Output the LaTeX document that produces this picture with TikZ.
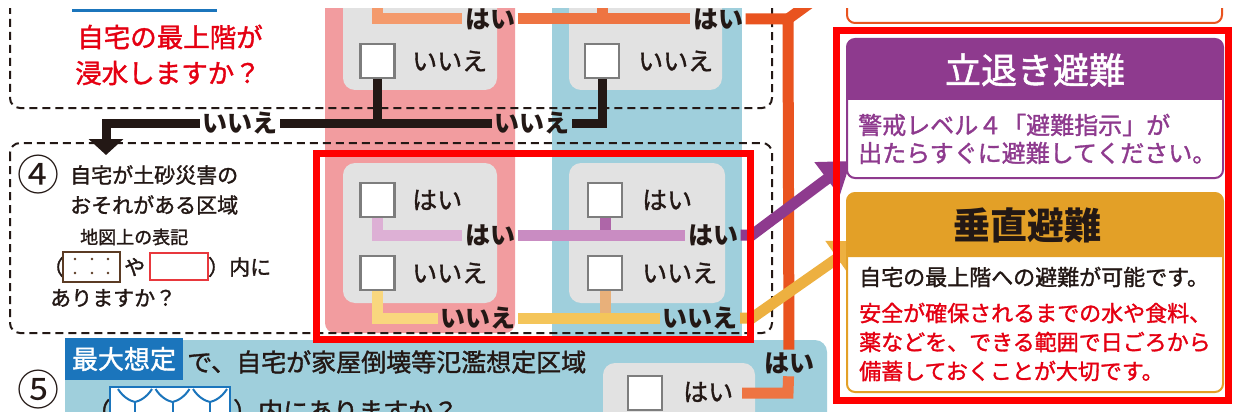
\documentclass[tikz,border=0pt]{standalone}
\usepackage{fontspec}
\newfontfamily\jp{Noto Sans CJK JP}
\newfontfamily\jpm[FakeBold=1.4]{Noto Sans CJK JP}
\usetikzlibrary{arrows.meta}
\newcommand\jfs[1]{\fontsize{#1}{#1}\selectfont}
\definecolor{ink}{HTML}{231815}
\definecolor{pinkcol}{HTML}{F29C9F}
\definecolor{bluecol}{HTML}{9FCFDC}
\definecolor{graybox}{HTML}{E2E2E2}
\definecolor{chkgray}{HTML}{7D7D7D}
\definecolor{redtxt}{HTML}{E50012}
\definecolor{blue5}{HTML}{1B75BC}
\definecolor{or1}{HTML}{F49A6C}
\definecolor{or2}{HTML}{EE7442}
\definecolor{or3}{HTML}{E9531F}
\definecolor{pu0}{HTML}{DDB0D5}
\definecolor{pu1}{HTML}{C98CC2}
\definecolor{pu2}{HTML}{AE66A8}
\definecolor{pu3}{HTML}{8E3A8E}
\definecolor{ye0}{HTML}{F9D77E}
\definecolor{ye1}{HTML}{F4C55A}
\definecolor{ye2}{HTML}{EDB040}
\definecolor{ye3}{HTML}{E3A027}
\definecolor{yestub}{HTML}{E8B07A}
\definecolor{brownbox}{HTML}{5B3B24}
\definecolor{redbox}{HTML}{E8383D}
\begin{document}
\begin{tikzpicture}[x=1pt,y=-1pt,
  chk/.style={draw=chkgray,fill=white,line width=2.5pt,minimum size=34pt,inner sep=0pt},
  opt/.style={font=\jpm\jfs{25},text=ink,inner sep=0pt,anchor=west},
  lbl/.style={font=\jp\bfseries\jfs{25},text=ink,inner sep=2.5pt},
  blk/.style={draw=ink,line width=9pt},
  ln/.style={line width=11pt},
  dashbox/.style={draw=ink,line width=2pt,dash pattern=on 8pt off 5pt,rounded corners=10pt},
  redframe/.style={draw=red,line width=7pt},
  body/.style={font=\jpm\jfs{21},text=ink,inner sep=0pt,anchor=west}
]
\useasboundingbox (0,0) rectangle (1235,412);
\fill[white] (0,0) rectangle (1235,412);
\begin{scope}
\clip (0,9) rectangle (1235,412);
% columns and panels
\fill[pinkcol, rounded corners=10pt] (325,-20) rectangle (515,333);
\fill[bluecol] (552,-20) rectangle (742,345);
\fill[bluecol, rounded corners=12pt] (65,340) rectangle (827,440);
\fill[graybox, rounded corners=12pt] (343,-20) rectangle (497,90);
\fill[graybox, rounded corners=12pt] (569,-20) rectangle (722,90);
\fill[graybox, rounded corners=12pt] (343,163) rectangle (497,303);
\fill[graybox, rounded corners=12pt] (569,163) rectangle (725,303);
\fill[graybox, rounded corners=12pt] (603,363) rectangle (755,440);
% top pieces
\draw[blue5, line width=3pt] (72,11) -- (217,11);
\draw[or3, line width=2pt, rounded corners=8pt] (847,-30) rectangle (1222,23);
% dashed question boxes
\draw[dashbox] (10,-30) rectangle (772,108);
\draw[dashbox] (10,143) rectangle (772,333);

% question 3
\node[font=\jpm\jfs{26.5}, text=redtxt, inner sep=0pt] (q3a) at (170,37) {自宅の最上階が};
\node[font=\jpm\jfs{26.5}, text=redtxt, inner sep=0pt] (q3b) at (168,73) {浸水しますか？};
\node[chk] (c3p) at (377.5,61) {};
\node[chk] (c3b) at (602,61) {};
\node[opt] (o3p) at (412,61) {いいえ};
\node[opt] (o3b) at (638,61) {いいえ};

% orange "yes" path
\coordinate (ostubP) at (377.5,0);
\coordinate (ostubB) at (602,0);
\coordinate (ocorner) at (788,19);
\coordinate (ocut) at (810,3);
\coordinate (obot) at (788,393);
\coordinate (o5) at (742,393);
\node[lbl] (lo1) at (490,19) {はい};
\node[lbl] (lo2) at (718,19) {はい};
\node[lbl] (lo3) at (789,363) {はい};
\draw[or1, ln] (ostubP) |- (lo1);
\draw[or2, ln] (lo1) -- (lo2);
\draw[or2, ln] (ostubB) -- (ostubB |- lo1);
\draw[or3, ln] (lo2) -- (ocorner) -- (lo3);
\draw[or3, ln] (ocorner) -- (ocut);
\draw[or2, ln] (o5) -- (obot) -- (lo3);

% black "no" path
\node[lbl] (lA) at (240,123) {いいえ};
\node[lbl] (lB) at (532,123) {いいえ};
\coordinate (q4in) at (106,155);
\draw[blk] (c3p.south) -- (c3p.south |- lA);
\draw[blk] (c3b.south) |- (lB);
\draw[blk] (lB) -- (lA);
\draw[blk, -{Triangle[length=16pt,width=34pt]}] (lA) -| (q4in);

% question 4
\node[font=\jp\jfs{42}, text=ink, inner sep=0pt] (n4) at (38,175) {④};
\node[body] (q4a) at (70,175) {自宅が土砂災害の};
\node[body] (q4b) at (70,205) {おそれがある区域};
\node[body, font=\jpm\jfs{18}] (q4c) at (80,237) {地図上の表記};
\node[body, anchor=east] (q4p1) at (64,267) {（};
\draw[brownbox, line width=2.5pt, fill=white] (63,252) rectangle (120,282);
\foreach \dx in {75,92,108}{\foreach \dy in {259,273}{\fill[brownbox] (\dx,\dy) circle (1.4pt);}}
\node[body] (q4ya) at (124,267) {や};
\draw[redbox, line width=2pt, fill=white] (150,253) rectangle (208,280);
\node[body] (q4p2) at (208,267) {）内に};
\node[body] (q4d) at (50,298) {ありますか？};

\node[chk] (c4py) at (377.5,200) {};
\node[chk] (c4pn) at (377.5,273) {};
\node[chk] (c4by) at (605,200) {};
\node[chk] (c4bn) at (605,273) {};
\node[opt] (o4py) at (412,200) {はい};
\node[opt] (o4pn) at (412,273) {いいえ};
\node[opt] (o4by) at (642,200) {はい};
\node[opt] (o4bn) at (642,273) {いいえ};

% purple path
\node[lbl] (lp1) at (490,235) {はい};
\node[lbl] (lp2) at (713,235) {はい};
\coordinate (pbend) at (752,235);
\coordinate (ptip) at (851,161);
\draw[pu0, ln] (c4py.south) |- (lp1);
\draw[pu2, ln] (c4by.south) -- (c4by.south |- lp1);
\draw[pu1, ln] (lp1) -- (lp2);
\draw[pu3, ln, line join=miter, -{Triangle[length=30pt,width=40pt]}] (lp2) -- (pbend) -- (ptip);

% yellow path
\node[lbl] (ly1) at (478,318) {いいえ};
\node[lbl] (ly2) at (700,318) {いいえ};
\coordinate (ybend) at (752,318);
\coordinate (ytip) at (862,241);
\draw[ye0, ln] (c4pn.south) |- (ly1);
\draw[yestub, ln] (c4bn.south) -- (c4bn.south |- ly1);
\draw[ye1, ln] (ly1) -- (ly2);
\draw[ye2, ln, line join=miter, -{Triangle[length=30pt,width=40pt]}] (ly2) -- (ybend) -- (ytip);

% question 5
\node[font=\jp\jfs{42}, text=ink, inner sep=0pt] (n5) at (38,390) {⑤};
\node[fill=blue5, text=white, font=\jpm\jfs{26}, minimum width=118pt, minimum height=42pt, inner sep=0pt] (saidai) at (124,359) {最大想定};
\node[body, font=\jpm\jfs{25}] (q5a) at (187,362) {で、自宅が家屋倒壊等氾濫想定区域};
\node[body, font=\jpm\jfs{25}, anchor=east] (q5p1) at (111,411) {（};
\draw[blue5, line width=2.5pt, fill=white] (110,387) rectangle (230,440);
\foreach \yx in {135,172.5,210}{
  \draw[blue5, line width=2pt] (\yx-17,389) .. controls (\yx-12,397) and (\yx-5,401) .. (\yx,402) .. controls (\yx+5,401) and (\yx+12,397) .. (\yx+17,389);
  \draw[blue5, line width=2pt] (\yx,402) -- (\yx,430);
}
\node[body, font=\jpm\jfs{25}] (q5b) at (233,411) {）内にありますか？};
\node[chk] (c5y) at (645,393) {};
\node[opt] (o5y) at (683,392) {はい};

% right: evacuation boxes
\draw[pu3, line width=2pt, fill=white, rounded corners=8pt] (847,39) rectangle (1223,178);
\fill[pu3] (847,100) [rounded corners=8pt] -- (847,39) -- (1223,39) [sharp corners] -- (1223,100) -- cycle;
\node[font=\jpm\jfs{36}, text=white, inner sep=0pt] (tachi) at (1035,70) {立退き避難};
\node[font=\jpm\jfs{24}, text=pu3, inner sep=0pt, anchor=west] (tachi1) at (858,125) {警戒レベル４「避難指示」が};
\node[font=\jpm\jfs{24}, text=pu3, inner sep=0pt, anchor=west] (tachi2) at (858,153) {出たらすぐに避難してください。};

\draw[ye3, line width=2pt, fill=white, rounded corners=8pt] (847,193) rectangle (1223,392);
\fill[ye3] (847,257) [rounded corners=8pt] -- (847,193) -- (1223,193) [sharp corners] -- (1223,257) -- cycle;
\node[font=\jp\bfseries\jfs{37}, text=ink, inner sep=0pt] (suichoku) at (1027,225) {垂直避難};
\node[font=\jpm\jfs{22}, text=ink, inner sep=0pt, anchor=west] (s1) at (859,277) {自宅の最上階への避難が可能です。};
\node[font=\jpm\jfs{22}, text=redtxt, inner sep=0pt, anchor=west] (s2) at (859,313) {安全が確保されるまでの水や食料、};
\node[font=\jpm\jfs{22}, text=redtxt, inner sep=0pt, anchor=west] (s3) at (859,342) {薬などを、できる範囲で日ごろから};
\node[font=\jpm\jfs{22}, text=redtxt, inner sep=0pt, anchor=west] (s4) at (859,371) {備蓄しておくことが大切です。};

% highlight frames
\draw[redframe] (316,153) rectangle (750,339);
\draw[redframe] (836,31) rectangle (1228,400);
\end{scope}
\end{tikzpicture}
\end{document}
